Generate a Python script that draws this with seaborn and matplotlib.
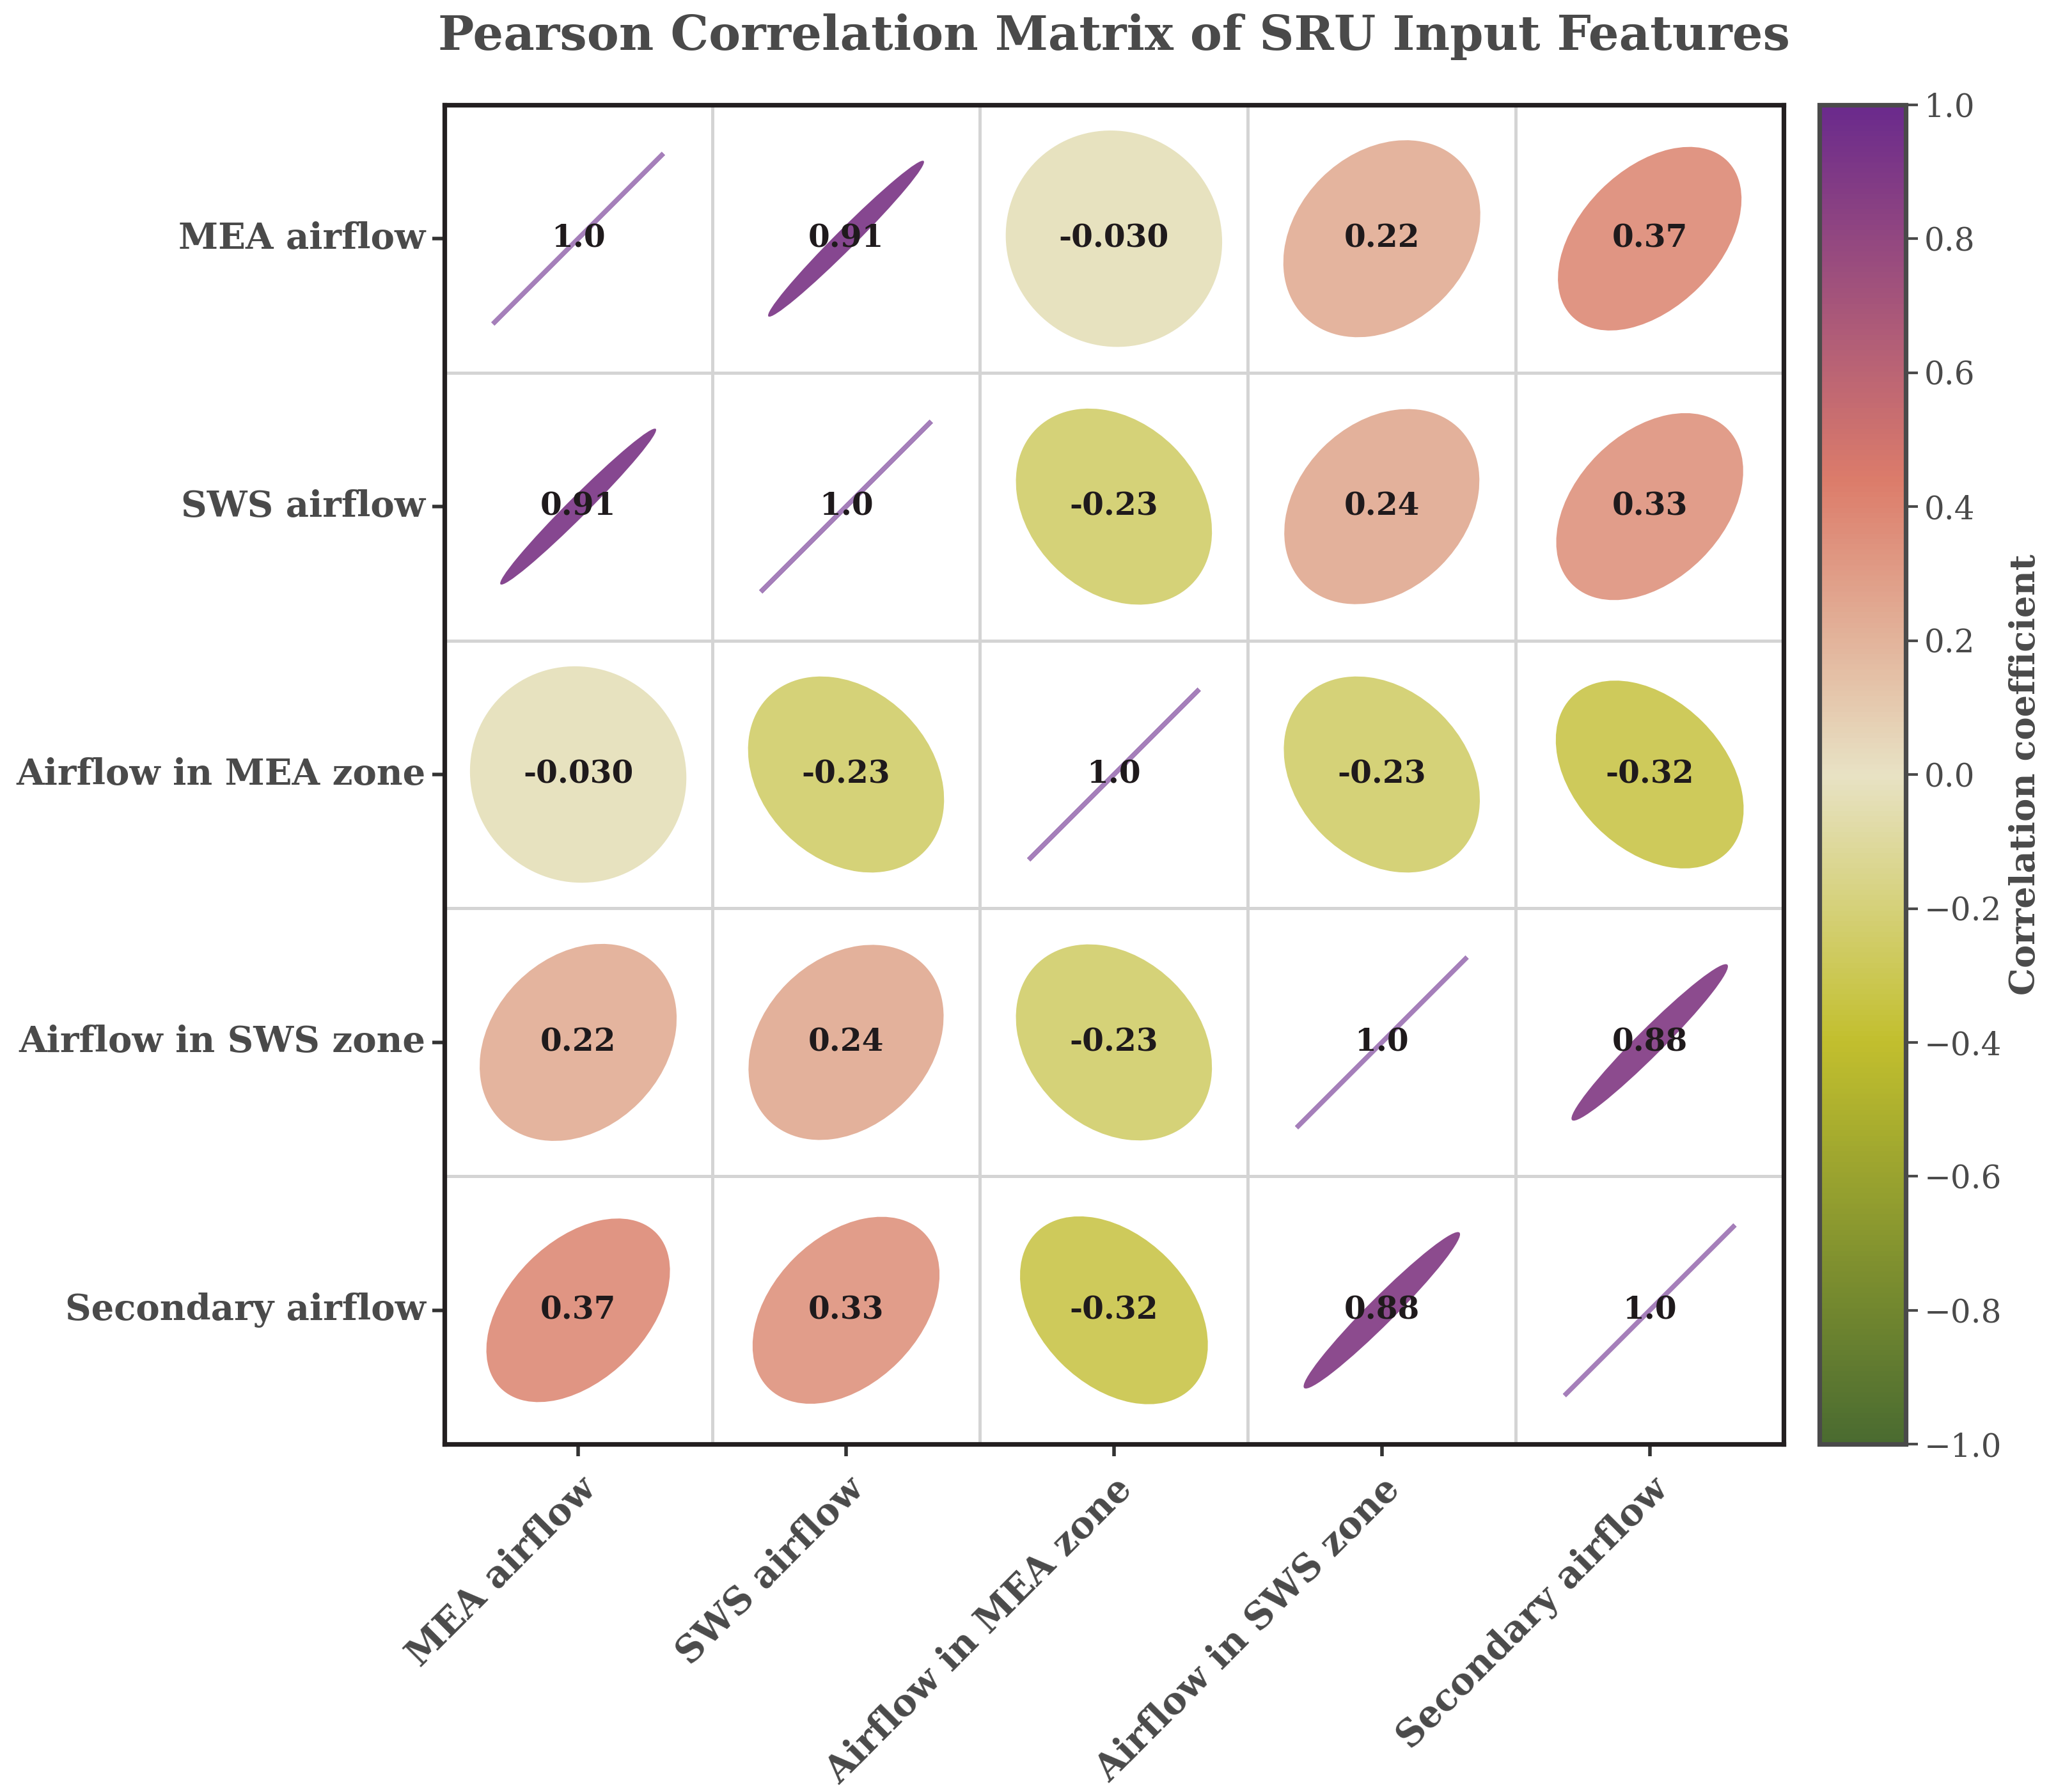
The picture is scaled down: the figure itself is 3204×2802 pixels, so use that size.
import numpy as np
import pandas as pd
import matplotlib
matplotlib.use("Agg")
import matplotlib.pyplot as plt
import seaborn as sns
from matplotlib.patches import Ellipse
from matplotlib.colors import LinearSegmentedColormap, Normalize
from matplotlib.cm import ScalarMappable

# --- data ---
features = ["MEA airflow", "SWS airflow", "Airflow in MEA zone",
            "Airflow in SWS zone", "Secondary airflow"]
row_mea = [1.0, 0.91, -0.03, 0.22, 0.37]
row_sws = [0.91, 1.0, -0.23, 0.24, 0.33]
row_mea_zone = [-0.03, -0.23, 1.0, -0.23, -0.32]
row_sws_zone = [0.22, 0.24, -0.23, 1.0, 0.88]
row_secondary = [0.37, 0.33, -0.32, 0.88, 1.0]
cbar_ticks = [-1.0, -0.8, -0.6, -0.4, -0.2, 0.0, 0.2, 0.4, 0.6, 0.8, 1.0]

corr = pd.DataFrame([row_mea, row_sws, row_mea_zone, row_sws_zone, row_secondary],
                    index=features, columns=features)

sns.set_style("ticks")
plt.rcParams["font.family"] = ["DejaVu Serif"]
text_grey = "#4a4a4a"

cmap = LinearSegmentedColormap.from_list(
    "olive_purple",
    [(0.0, "#4a6b30"), (0.3, "#c2bf2e"), (0.5, "#e8e2c4"),
     (0.72, "#dc7c6a"), (1.0, "#6a2a8c")])
norm = Normalize(vmin=-1, vmax=1)

fig = plt.figure(figsize=(16.02, 14.01), dpi=200)
ax = fig.add_axes([0.2168, 0.194, 0.6537, 0.7476])
cax = fig.add_axes([0.888, 0.194, 0.042, 0.7476])

# empty heatmap just to lay out the cells / ticks
sns.heatmap(corr, mask=np.ones_like(corr, dtype=bool), cbar=False, ax=ax,
            square=True)

n = len(features)
for i in range(n):
    for j in range(n):
        r = corr.iloc[i, j]
        col = cmap(norm(r))
        cx, cy = j + 0.5, i + 0.5
        if abs(r) >= 0.999:
            e = Ellipse((cx, cy), width=0.9, height=0.0, angle=-45,
                        facecolor="none", edgecolor=col, lw=2.6,
                        alpha=0.6, capstyle="round", zorder=3)
        else:
            e = Ellipse((cx, cy), width=0.82, height=0.82 * (1 - abs(r)),
                        angle=-45 if r > 0 else 45,
                        facecolor=col, edgecolor="none", alpha=0.92, zorder=3)
        ax.add_patch(e)
        ax.text(cx, cy, f"{r:#.2g}", ha="center", va="center",
                fontsize=17.5, fontweight="bold", color="#1f1a1c", zorder=4)

ax.set_xticks(np.arange(n + 1), minor=True)
ax.set_yticks(np.arange(n + 1), minor=True)
ax.grid(which="minor", color="#d4d4d4", lw=1.8, zorder=0)
ax.tick_params(which="minor", length=0)
ax.tick_params(which="major", length=7, width=2, color="#333333")
ax.tick_params(axis="x", which="major", pad=8)
ax.set_axisbelow(True)

for sp in ax.spines.values():
    sp.set_visible(True)
    sp.set_linewidth(2.6)
    sp.set_color("#231f20")

ax.set_xticklabels(features, rotation=45, ha="right", rotation_mode="anchor",
                   fontsize=20.5, fontweight="bold", color=text_grey)
ax.set_yticklabels(features, rotation=0, fontsize=20.2, fontweight="bold",
                   color=text_grey)
ax.set_xlabel("")
ax.set_ylabel("")
ax.set_title("Pearson Correlation Matrix of SRU Input Features",
             fontsize=27, fontweight="bold", color=text_grey, pad=31)

sm = ScalarMappable(norm=norm, cmap=cmap)
cb = fig.colorbar(sm, cax=cax, ticks=cbar_ticks)
cb.outline.set_linewidth(2.6)
cb.outline.set_edgecolor(text_grey)
cb.ax.tick_params(labelsize=18, length=7, width=1.5, colors=text_grey)
cb.set_label("Correlation coefficient", fontsize=19.5, fontweight="bold",
             color=text_grey, labelpad=4)

fig.savefig("out.png", dpi=200)
